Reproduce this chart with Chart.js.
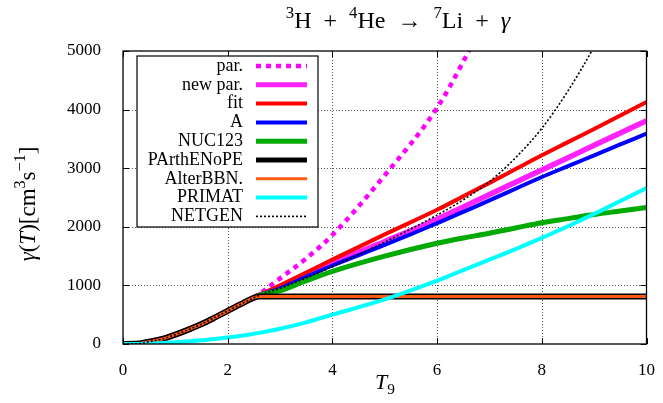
<!DOCTYPE html>
<html>
<head>
<meta charset="utf-8">
<script src="https://cdn.jsdelivr.net/npm/chart.js@4"></script>
<style>
  html, body { margin: 0; padding: 0; background: #fff; }
  #wrap { width: 663px; height: 403px; }
</style>
</head>
<body>
<div id="wrap"><canvas id="rate-chart"></canvas></div>
<script>
// temperature grid (T9)
const T9 = [0, 0.25, 0.5, 0.75, 1, 1.25, 1.5, 1.75, 2, 2.25, 2.5,
    2.6, 3, 3.5, 4, 5, 6, 6.5, 7, 7.5, 8, 8.5, 9, 9.5, 10];

// common low-temperature part (T9 0 .. 2.5)
const lowPart = [0, 3, 40, 85, 160, 245, 340, 450, 565, 680, 790];

// T9 2.6 .. 10
const parHigh = [850, 1120, 1460, 1860, 2880, 4030, 4820, 5700, null, null, null, null, null, null];
const newParHigh = [830, 970, 1175, 1380, 1750, 2130, 2340, 2550, 2760, 2970, 3180, 3390, 3600, 3810];
const fitHigh = [830, 1000, 1220, 1440, 1870, 2290, 2520, 2750, 2985, 3220, 3445, 3670, 3900, 4130];
const aHigh = [830, 950, 1145, 1340, 1690, 2060, 2255, 2450, 2650, 2850, 3035, 3220, 3405, 3590];
const nuc123High = [830, 910, 1080, 1240, 1500, 1720, 1810, 1890, 1980, 2070, 2140, 2210, 2270, 2330];
const parthenopeHigh = [812, 812, 812, 812, 812, 812, 812, 812, 812, 812, 812, 812, 812, 812];
const alterbbnHigh = [812, 812, 812, 812, 812, 812, 812, 812, 812, 812, 812, 812, 812, 812];
const netgenHigh = [830, 950, 1130, 1320, 1740, 2200, 2460, 2770, 3180, 3680, 4320, 5080, 6000, 7100];

const primat = [0, 2, 8, 18, 30, 45, 62, 85, 110, 140, 175,
    190, 260, 370, 500, 760, 1080, 1260, 1440, 1620, 1810, 2010, 2220, 2440, 2660];

const xTicks = [0, 2, 4, 6, 8, 10];
const yTicks = [0, 1000, 2000, 3000, 4000, 5000];

const serif = '"Liberation Serif", "Times New Roman", serif';

const points = (vals) => T9.map((t, i) => ({ x: t, y: vals[i] }));

const series = [
    { label: 'par.', vals: lowPart.concat(parHigh), color: '#ff00ff', width: 4.5, dash: [5, 5] },
    { label: 'new par.', vals: lowPart.concat(newParHigh), color: '#ff22ff', width: 5.5, dash: [] },
    { label: 'fit', vals: lowPart.concat(fitHigh), color: '#ff0000', width: 4, dash: [] },
    { label: 'A', vals: lowPart.concat(aHigh), color: '#0000ff', width: 4, dash: [] },
    { label: 'NUC123', vals: lowPart.concat(nuc123High), color: '#00aa00', width: 5, dash: [] },
    { label: 'PArthENoPE', vals: lowPart.concat(parthenopeHigh), color: '#000000', width: 6, dash: [] },
    { label: 'AlterBBN.', vals: lowPart.concat(alterbbnHigh), color: '#ff5a14', width: 3, dash: [] },
    { label: 'PRIMAT', vals: primat, color: '#00ffff', width: 4, dash: [] },
    { label: 'NETGEN', vals: lowPart.concat(netgenHigh), color: '#000000', width: 1.6, dash: [2, 2] },
];

// draw text made of segments (superscript / subscript / italic / extra gap)
function segWidth(ctx, s, size) {
    if (s.gap) return s.gap;
    const fs = s.sup || s.sub ? size * 0.7 : size;
    ctx.font = (s.it ? 'italic ' : '') + fs + 'px ' + serif;
    return ctx.measureText(s.t).width;
}
function drawRich(ctx, segs, cx, cy, size) {
    let x = cx - segs.reduce((w, s) => w + segWidth(ctx, s, size), 0) / 2;
    ctx.textBaseline = 'alphabetic';
    ctx.textAlign = 'left';
    const base = cy + size * 0.33;
    segs.forEach((s) => {
        const w = segWidth(ctx, s, size);
        if (!s.gap) {
            let y = base;
            if (s.sup) y -= size * 0.42;
            if (s.sub) y += size * 0.22;
            ctx.fillText(s.t, x, y);
        }
        x += w;
    });
}

// dotted gnuplot-like grid, under the curves
const gridPlugin = {
    id: 'dotgrid',
    beforeDatasetsDraw(chart) {
        const { ctx, chartArea: a, scales } = chart;
        ctx.save();
        ctx.strokeStyle = '#555';
        ctx.lineWidth = 1;
        ctx.setLineDash([1, 2]);
        ctx.beginPath();
        xTicks.slice(1, -1).forEach((v) => {
            const px = Math.round(scales.x.getPixelForValue(v)) + 0.5;
            ctx.moveTo(px, a.top); ctx.lineTo(px, a.bottom);
        });
        yTicks.slice(1, -1).forEach((v) => {
            const py = Math.round(scales.y.getPixelForValue(v)) + 0.5;
            ctx.moveTo(a.left, py); ctx.lineTo(a.right, py);
        });
        ctx.stroke();
        ctx.restore();
    },
};

const framePlugin = {
    id: 'frame',
    afterDraw(chart) {
        const { ctx, chartArea: a, scales } = chart;
        ctx.save();
        ctx.strokeStyle = '#000';
        ctx.lineWidth = 1;
        ctx.setLineDash([]);
        ctx.beginPath();
        xTicks.forEach((v) => {
            const px = Math.round(scales.x.getPixelForValue(v)) + 0.5;
            ctx.moveTo(px, a.bottom); ctx.lineTo(px, a.bottom - 6);
            ctx.moveTo(px, a.top); ctx.lineTo(px, a.top + 6);
        });
        yTicks.forEach((v) => {
            const py = Math.round(scales.y.getPixelForValue(v)) + 0.5;
            ctx.moveTo(a.left, py); ctx.lineTo(a.left + 6, py);
            ctx.moveTo(a.right, py); ctx.lineTo(a.right - 6, py);
        });
        ctx.stroke();
        ctx.lineWidth = 1.3;
        ctx.strokeRect(a.left, a.top, a.right - a.left, a.bottom - a.top);

        // legend box
        const lx = a.left + 14, ly = a.top + 5, lw = 181, lh = 171;
        ctx.fillStyle = '#fff';
        ctx.fillRect(lx, ly, lw, lh);
        ctx.lineWidth = 1.2;
        ctx.strokeRect(lx, ly, lw, lh);
        chart.data.datasets.forEach((ds, i) => {
            const y = ly + 10 + i * 18.8;
            ctx.fillStyle = '#000';
            ctx.font = '18px ' + serif;
            ctx.textAlign = 'right';
            ctx.textBaseline = 'middle';
            ctx.fillText(ds.label, lx + 106, y);
            ctx.strokeStyle = ds.borderColor;
            ctx.lineWidth = Math.min(ds.borderWidth, 5);
            ctx.setLineDash(ds.borderDash);
            ctx.beginPath();
            ctx.moveTo(lx + 119, y);
            ctx.lineTo(lx + 170, y);
            ctx.stroke();
            ctx.setLineDash([]);
        });

        // titles
        ctx.fillStyle = '#000';
        drawRich(ctx, [
            { t: '3', sup: true }, { t: 'H' }, { gap: 12 }, { t: '+' }, { gap: 12 },
            { t: '4', sup: true }, { t: 'He' }, { gap: 12 }, { t: '\u2192' }, { gap: 12 },
            { t: '7', sup: true }, { t: 'Li' }, { gap: 12 }, { t: '+' }, { gap: 12 },
            { t: '\u03b3', it: true },
        ], 398, 20, 24);
        drawRich(ctx, [{ t: 'T', it: true }, { t: '9', sub: true }], 385, 382, 22);
        ctx.save();
        ctx.translate(27, 204);
        ctx.rotate(-Math.PI / 2);
        drawRich(ctx, [
            { t: '\u03b3', it: true }, { t: '(' }, { t: 'T', it: true }, { t: ')[cm' },
            { t: '3', sup: true }, { t: 's' }, { t: '\u22121', sup: true }, { t: ']' },
        ], 0, 0, 23);
        ctx.restore();
        ctx.restore();
    },
};

new Chart(document.getElementById('rate-chart'), {
    type: 'line',
    data: {
        datasets: series.map((s, i) => ({
            label: s.label,
            data: points(s.vals),
            borderColor: s.color,
            backgroundColor: s.color,
            borderWidth: s.width,
            borderDash: s.dash,
            pointRadius: 0,
            fill: false,
            cubicInterpolationMode: 'monotone',
            spanGaps: false,
            order: series.length - i,
        })),
    },
    options: {
        responsive: true,
        maintainAspectRatio: false,
        animation: false,
        layout: {
            padding: { top: 51, right: 15, left: 0, bottom: 0 },
        },
        plugins: {
            legend: { display: false },
            title: { display: false },
            tooltip: { enabled: false },
        },
        scales: {
            x: {
                type: 'linear',
                min: 0,
                max: 10,
                afterFit: (scale) => { scale.height = 59; },
                afterBuildTicks: (scale) => { scale.ticks = xTicks.map((v) => ({ value: v })); },
                ticks: {
                    color: '#000',
                    padding: 8,
                    font: { family: serif, size: 17 },
                    maxRotation: 0,
                    callback: (v) => String(v),
                },
                grid: { display: false },
                border: { display: false },
            },
            y: {
                min: 0,
                max: 5000,
                afterFit: (scale) => { scale.width = 123; },
                afterBuildTicks: (scale) => { scale.ticks = yTicks.map((v) => ({ value: v })); },
                ticks: {
                    color: '#000',
                    padding: 14,
                    font: { family: serif, size: 17 },
                    callback: (v) => String(v),
                },
                grid: { display: false },
                border: { display: false },
            },
        },
    },
    plugins: [gridPlugin, framePlugin],
});
</script>
</body>
</html>
